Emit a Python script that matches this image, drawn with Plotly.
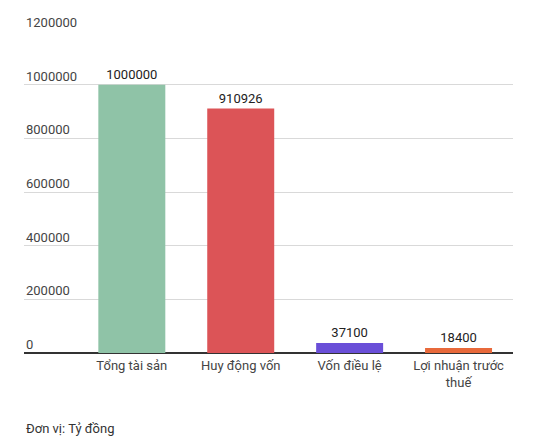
import plotly.graph_objects as go

# chart data
categories = ["Tổng tài sản", "Huy động vốn", "Vốn điều lệ", "Lợi nhuận trước<br>thuế"]
values = [1000000, 910926, 37100, 18400]
bar_colors = ["#8fc3a7", "#dc5457", "#6a4fd8", "#e8693b"]
y_ticks = [0, 200000, 400000, 600000, 800000, 1000000, 1200000]
unit_note = "Đơn vị: Tỷ đồng"

fig = go.Figure()

fig.add_trace(go.Bar(
	x=list(range(len(categories))), y=values,
	marker=dict(color=bar_colors, line=dict(width=0)),
	text=[str(v) for v in values],
	textposition="outside",
	textfont=dict(size=13, color="#222"),
	cliponaxis=False,
))

# y tick labels sit above their gridlines, left aligned
annots = [dict(
	text=str(t), xref="paper", yref="y", x=0, y=t,
	xanchor="left", yanchor="bottom", yshift=-1,
	showarrow=False, font=dict(size=13, color="#444"),
) for t in y_ticks]

annots.append(dict(
	text=unit_note, xref="paper", yref="paper",
	x=0, y=-0.236, xanchor="left", yanchor="middle",
	showarrow=False, font=dict(size=13, color="#333"),
))

# page body has an 8px margin, so the figure is a bit smaller than the window
fig.update_layout(
	width=520, height=431,
	margin=dict(l=16, r=15, t=23, b=86),
	paper_bgcolor="white", plot_bgcolor="white",
	font=dict(family="Roboto", size=13, color="#444"),
	showlegend=False,
	bargap=0.385,
	xaxis=dict(
		tickmode="array", tickvals=list(range(len(categories))), ticktext=categories,
		range=[-0.99, 3.5],
		showgrid=False, zeroline=False, showline=False,
		ticks="", tickfont=dict(size=13, color="#444"),
		ticklabelstandoff=3,
		automargin=False, fixedrange=True,
	),
	yaxis=dict(
		range=[0, 1200000],
		tickvals=y_ticks, showticklabels=False,
		showgrid=True, gridcolor="#d9d9d9", gridwidth=1,
		zeroline=True, zerolinecolor="#333", zerolinewidth=2,
		automargin=False, fixedrange=True,
	),
	annotations=annots,
)

fig.write_html("out.html")
